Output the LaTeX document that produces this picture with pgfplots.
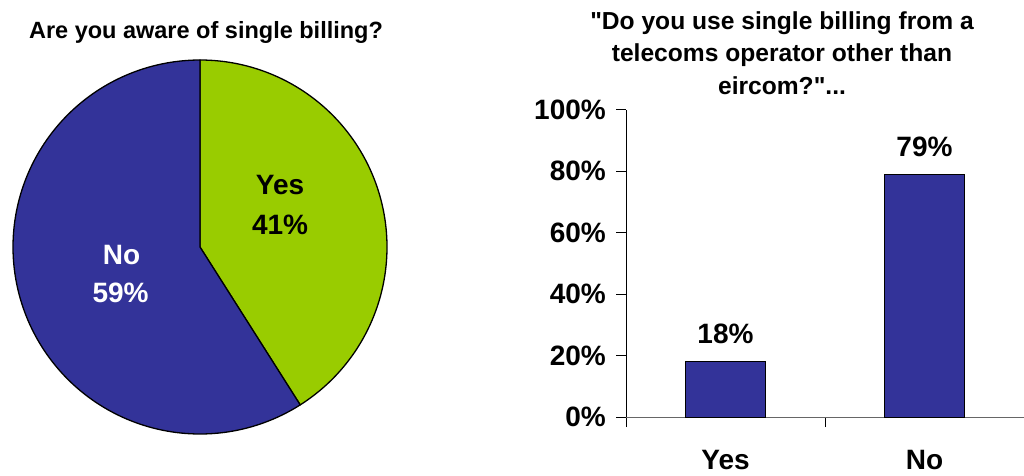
\documentclass[border=0pt]{standalone}
\usepackage{fontspec}
\setmainfont{Liberation Sans}[Ligatures=TeXOff]
\usepackage{pgfplots}
\pgfplotsset{compat=1.18}
\definecolor{pieblue}{HTML}{333399}
\definecolor{piegreen}{HTML}{99CC00}
\newcommand{\bigb}{\bfseries\fontsize{28}{34}\selectfont}
\begin{document}
\begin{tikzpicture}[x=1pt,y=1pt]
\useasboundingbox (0,0) rectangle (1024,475);
% ---- titles
\node[anchor=base, font=\bfseries\fontsize{23.5}{28}\selectfont] at (206,436) {Are you aware of single billing?};
\node[anchor=base, font=\bfseries\fontsize{24.6}{29}\selectfont] at (782,445.5) {"Do you use single billing from a};
\node[anchor=base, font=\bfseries\fontsize{24.6}{29}\selectfont] at (782,413) {telecoms operator other than};
\node[anchor=base, font=\bfseries\fontsize{24.6}{29}\selectfont] at (782,380.5) {eircom?"...};
% ---- pie: Yes 41%, No 59%  (angles: 90 - 3.6*41 = -57.6)
\begin{axis}[at={(200pt,228pt)}, anchor=origin, x=187pt, y=187pt,
  xmin=-1.05, xmax=1.05, ymin=-1.05, ymax=1.05, hide axis, clip=false]
\addplot[fill=piegreen, draw=black, line width=1.3pt, line join=round, domain=-57.6:90, samples=150, variable=\t]
  ({cos(t)},{sin(t)}) -- (axis cs:0,0) -- cycle;
\addplot[fill=pieblue, draw=black, line width=1.3pt, line join=round, domain=-270:-57.6, samples=200, variable=\t]
  ({cos(t)},{sin(t)}) -- (axis cs:0,0) -- cycle;
\node[anchor=base, font=\bigb] at (axis cs:0.428,0.283) {Yes};
\node[anchor=base, font=\bigb] at (axis cs:0.428,0.0695) {41\%};
\node[anchor=base, font=\bigb, text=white] at (axis cs:-0.42,-0.091) {No};
\node[anchor=base, font=\bigb, text=white] at (axis cs:-0.425,-0.299) {59\%};
\end{axis}
% ---- bar chart
\begin{axis}[at={(626pt,58pt)}, anchor=origin, x=199pt, y=3.075pt,
  xmin=0, xmax=2, ymin=0, ymax=100,
  axis x line=bottom, axis y line=left,
  x axis line style={-, black!60, line width=1pt},
  y axis line style={-, black, line width=1pt},
  tick align=outside, major tick length=10pt,
  tick style={black, line width=1pt},
  ytick={0,20,40,60,80,100},
  yticklabels={0\%,20\%,40\%,60\%,80\%,100\%},
  yticklabel style={font=\bigb, anchor=east, inner sep=0pt, xshift=-10pt},
  xtick={0,1,2}, xticklabels={,,},
  extra x ticks={0.5,1.5}, extra x tick labels={Yes,No},
  extra x tick style={major tick length=0pt,
     xticklabel style={font=\bigb, anchor=base, inner sep=0pt, yshift=-52pt}},
  ybar, bar width=80pt, clip=false,
  nodes near coords={\pgfmathprintnumber[assume math mode=true]{\pgfplotspointmeta}\%},
  every node near coord/.append style={font=\bigb, anchor=base, inner sep=0pt, yshift=18pt},
]
\addplot[fill=pieblue, draw=black, line width=0.8pt] coordinates {(0.5,18) (1.5,79)};
\end{axis}
\end{tikzpicture}
\end{document}
